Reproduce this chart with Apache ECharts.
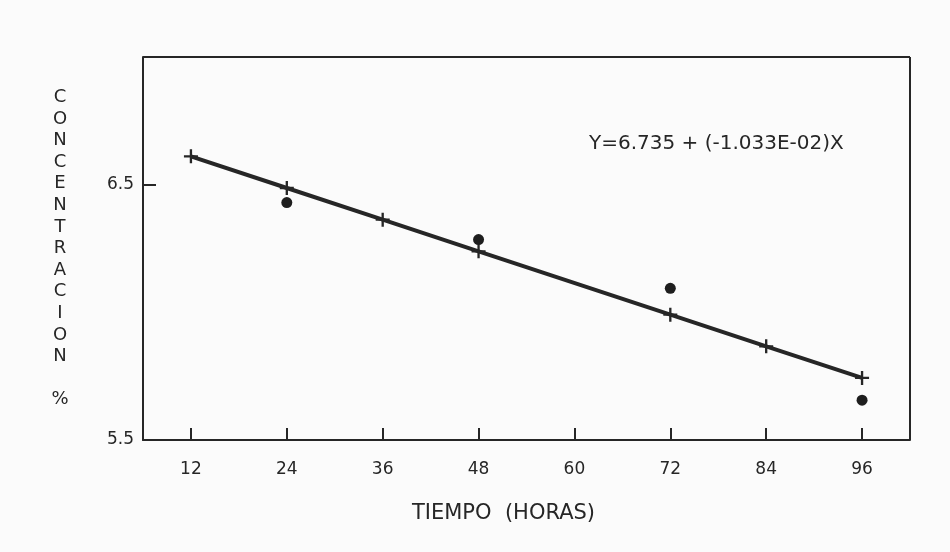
<!DOCTYPE html>
<html>
<head>
<meta charset="utf-8">
<script src="https://cdn.jsdelivr.net/npm/echarts@6/dist/echarts.min.js"></script>
<style>
html,body{margin:0;padding:0;background:#fbfbfb;}
#chart{width:950px;height:552px;}
</style>
</head>
<body>
<div id="chart"></div>
<script>
// Data
const xTicks = [12, 24, 36, 48, 60, 72, 84, 96];
const yTicks = [5.5, 6.5];
const fitHours = [12, 24, 36, 48, 72, 84, 96];
const fitValues = [6.611, 6.487, 6.363, 6.239, 5.991, 5.867, 5.743];
const obsHours = [24, 48, 72, 96];
const obsValues = [6.43, 6.285, 6.094, 5.656];
const equationText = 'Y=6.735 + (-1.033E-02)X';
const xName = 'TIEMPO  (HORAS)';
const yNameLetters = ['C','O','N','C','E','N','T','R','A','C','I','O','N','','%'];

const ink = '#262626';
const font = 'DejaVu Sans';
const crossPath = 'path://M-1,-6L1,-6L1,-1L6,-1L6,1L1,1L1,6L-1,6L-1,1L-6,1L-6,-1L-1,-1Z';

const chart = echarts.init(document.getElementById('chart'), null, {renderer: 'canvas'});
chart.setOption({
  backgroundColor: '#fbfbfb',
  animation: false,
  title: {
    text: equationText,
    left: 584, top: 129,
    textStyle: {fontFamily: font, fontSize: 20, fontWeight: 'normal', color: ink}
  },
  grid: {left: 143, right: 40, top: 57, bottom: 112},
  xAxis: {
    type: 'value', min: 6, max: 102,
    name: xName, nameLocation: 'middle', nameGap: 63,
    nameTextStyle: {fontFamily: font, fontSize: 21, color: ink, padding: [0, 46, 0, 0]},
    axisLine: {lineStyle: {color: ink, width: 2}},
    axisTick: {inside: true, length: 12, lineStyle: {color: ink, width: 2}, customValues: xTicks},
    axisLabel: {customValues: xTicks, margin: 21, fontFamily: font, fontSize: 17, color: ink},
    splitLine: {show: false}
  },
  yAxis: {
    type: 'value', min: 5.5, max: 7.0,
    name: yNameLetters.join('\n'), nameLocation: 'middle', nameRotate: 0, nameGap: 83,
    nameTextStyle: {fontFamily: font, fontSize: 18, color: ink, lineHeight: 21.6, align: 'center', verticalAlign: 'middle', padding: [14, 0, 0, 0]},
    axisLine: {lineStyle: {color: ink, width: 2}},
    axisTick: {inside: true, length: 13, lineStyle: {color: ink, width: 2}, customValues: yTicks},
    axisLabel: {customValues: yTicks, margin: 9, fontFamily: font, fontSize: 17, color: ink,
      formatter: v => v.toFixed(1)},
    splitLine: {show: false}
  },
  series: [
    {
      type: 'line',
      data: fitHours.map((h, i) => [h, fitValues[i]]),
      lineStyle: {color: ink, width: 4},
      symbol: crossPath, symbolSize: 14, showAllSymbol: true,
      itemStyle: {color: ink},
      z: 3
    },
    {
      type: 'scatter',
      data: obsHours.map((h, i) => [h, obsValues[i]]),
      symbol: 'circle', symbolSize: 11,
      itemStyle: {color: '#1e1e1e', opacity: 1},
      z: 4
    },
    {
      type: 'line',
      data: [],
      markLine: {silent: true, symbol: 'none', label: {show: false},
        lineStyle: {color: ink, width: 2, type: 'solid'},
        data: [[{coord: [6, 7.0]}, {coord: [102, 7.0]}], [{coord: [102, 5.5]}, {coord: [102, 7.0]}]]}
    }
  ]
});
</script>
</body>
</html>
